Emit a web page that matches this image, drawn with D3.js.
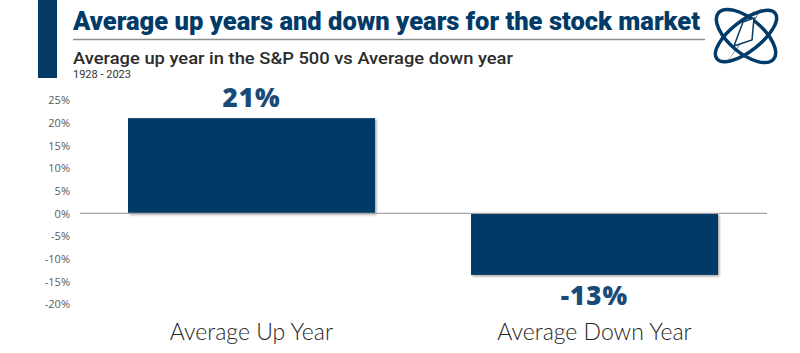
<!DOCTYPE html>
<html>
<head>
<meta charset="utf-8">
<script src="https://cdn.jsdelivr.net/npm/d3@7"></script>
<style>
  body { margin: 0; background: #fff; }
  svg { display: block; }
</style>
</head>
<body>
<div id="chart"></div>
<script>
// chart data
var categories = ["Average Up Year", "Average Down Year"];
var values = [21, -13.6];
var valueLabels = ["21%", "-13%"];
var yTicks = [25, 20, 15, 10, 5, 0, -5, -10, -15, -20];

var title = "Average up years and down years for the stock market";
var subtitle = "Average up year in the S&P 500 vs Average down year";
var period = "1928 - 2023";

var navy = "#023b67";
var width = 800, height = 353;

var svg = d3.select("#chart").append("svg")
    .attr("width", width)
    .attr("height", height);

// drop shadow for bars
var defs = svg.append("defs");
var f = defs.append("filter").attr("id", "shadow")
    .attr("x", "-5%").attr("y", "-5%").attr("width", "115%").attr("height", "115%");
f.append("feDropShadow")
    .attr("dx", 1.5).attr("dy", 1.5).attr("stdDeviation", 1)
    .attr("flood-color", "#000").attr("flood-opacity", 0.35);

// header block
svg.append("rect").attr("x", 38).attr("y", 0).attr("width", 19).attr("height", 78).attr("fill", navy);

svg.append("text")
    .attr("x", 73).attr("y", 30)
    .attr("textLength", 627).attr("lengthAdjust", "spacingAndGlyphs")
    .style("font-family", "Roboto, sans-serif")
    .style("font-weight", 900)
    .style("font-size", "26px")
    .attr("fill", navy)
    .text(title);

svg.append("line")
    .attr("x1", 73).attr("x2", 705).attr("y1", 39.5).attr("y2", 39.5)
    .attr("stroke", "#8c8c8c").attr("stroke-width", 1.5);

svg.append("text")
    .attr("x", 73).attr("y", 64)
    .attr("textLength", 440).attr("lengthAdjust", "spacingAndGlyphs")
    .style("font-family", "Roboto, sans-serif")
    .style("font-weight", 500)
    .style("font-size", "17px")
    .attr("fill", "#2b2b2b")
    .text(subtitle);

svg.append("text")
    .attr("x", 73).attr("y", 78)
    .style("font-family", "Roboto, sans-serif")
    .style("font-size", "11px")
    .attr("fill", "#333")
    .text(period);

// logo (rings + compass)
var logo = svg.append("g").attr("transform", "translate(746,36)")
    .attr("fill", "none").attr("stroke", navy);
logo.append("ellipse").attr("rx", 37).attr("ry", 15).attr("stroke-width", 3.5)
    .attr("transform", "rotate(-38)");
logo.append("ellipse").attr("rx", 36).attr("ry", 17).attr("stroke-width", 3.5)
    .attr("transform", "rotate(40)");
logo.append("path")
    .attr("d", "M16,-30 L2,-2 L-22,30 L-2,2 Z")
    .attr("fill", navy).attr("stroke", "none");
logo.append("path")
    .attr("d", "M-3,-14 L8,-18 L6,4 L-12,10 Z")
    .attr("fill", "#fff").attr("stroke", navy).attr("stroke-width", 1.5);

// scales
var x = d3.scaleBand()
    .domain(categories)
    .range([128, 718])
    .paddingInner(0.28)
    .paddingOuter(0);

var y = d3.scaleLinear()
    .domain([-20, 25])
    .range([303.9, 100]);

// y axis labels
var yAxis = d3.axisLeft(y)
    .tickValues(yTicks)
    .tickSize(0)
    .tickPadding(0)
    .tickFormat(function(d) { return d + "%"; });

var ga = svg.append("g")
    .attr("transform", "translate(70,0)")
    .call(yAxis);
ga.select(".domain").remove();
ga.selectAll("text")
    .attr("dy", "0.35em")
    .style("font-family", "'Open Sans', sans-serif")
    .style("font-size", "11px")
    .attr("fill", "#595959");

// bars
svg.selectAll(".bar")
    .data(values)
    .enter().append("rect")
    .attr("class", "bar")
    .attr("x", function(d, i) { return x(categories[i]); })
    .attr("width", x.bandwidth())
    .attr("y", function(d) { return y(Math.max(0, d)); })
    .attr("height", function(d) { return Math.abs(y(d) - y(0)); })
    .attr("fill", navy)
    .attr("filter", "url(#shadow)");

// zero line
svg.append("line")
    .attr("x1", 80).attr("x2", 767)
    .attr("y1", y(0)).attr("y2", y(0))
    .attr("stroke", "#a6a6a6").attr("stroke-width", 1.2);

// value labels
svg.selectAll(".val")
    .data(values)
    .enter().append("text")
    .attr("class", "val")
    .attr("x", function(d, i) { return x(categories[i]) + x.bandwidth() / 2; })
    .attr("y", function(d) { return d >= 0 ? y(d) - 11 : y(d) + 30; })
    .attr("text-anchor", "middle")
    .style("font-family", "'Open Sans', sans-serif")
    .style("font-weight", 800)
    .style("font-size", "26px")
    .style("letter-spacing", "1px")
    .attr("fill", "#1a4a78")
    .text(function(d, i) { return valueLabels[i]; });

// category labels
svg.selectAll(".cat")
    .data(categories)
    .enter().append("text")
    .attr("class", "cat")
    .attr("x", function(d) { return x(d) + x.bandwidth() / 2; })
    .attr("y", 340)
    .attr("text-anchor", "middle")
    .style("font-family", "Lato, sans-serif")
    .style("font-weight", 300)
    .style("font-size", "23px")
    .attr("fill", "#262626")
    .text(function(d) { return d; });
</script>
</body>
</html>
